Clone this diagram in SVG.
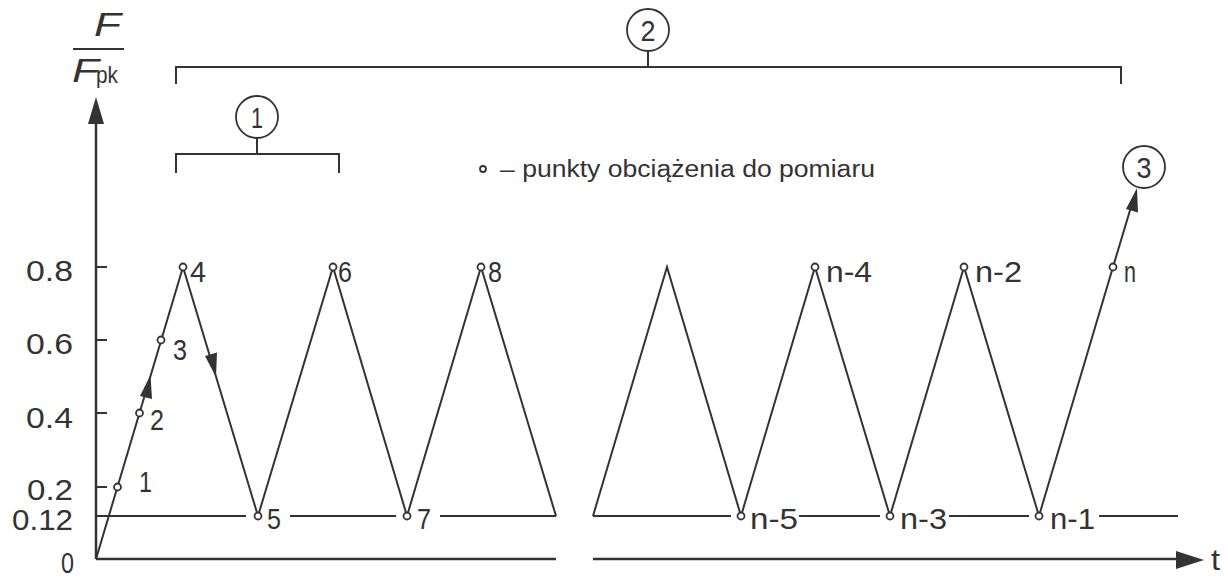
<svg xmlns="http://www.w3.org/2000/svg" width="1228" height="579" viewBox="0 0 1228 579">
<style>
.ln{stroke:#333;stroke-width:2;fill:none}
.ax{stroke:#333;stroke-width:2.5;fill:none}
.pt{stroke:#333;stroke-width:1.8;fill:#fff}
.lbl{font-family:"Liberation Sans",Arial,sans-serif;font-size:29px;fill:#333}
.cl{stroke:#333;stroke-width:1.8;fill:#fff}
.ah{fill:#333;stroke:none}
.leg{font-family:"Liberation Sans",Arial,sans-serif;font-size:23px;fill:#333}
</style>
<rect width="1228" height="579" fill="#fff"/>

<g id="axes">
<line class="ax" x1="96" y1="559" x2="96" y2="118"/>
<polygon class="ah" points="96,97 88,124 104,124"/>
<line class="ax" x1="96" y1="559" x2="556" y2="559"/>
<line class="ax" x1="593" y1="559" x2="1180" y2="559"/>
<polygon class="ah" points="1204,560 1176,551 1176,569"/>
<text class="lbl" x="1211" y="570" textLength="9" lengthAdjust="spacingAndGlyphs">t</text>
<g class="ln">
<line x1="96" y1="267" x2="107" y2="267"/>
<line x1="96" y1="340" x2="107" y2="340"/>
<line x1="96" y1="413" x2="107" y2="413"/>
<line x1="96" y1="487" x2="107" y2="487"/>
</g>
<text class="lbl" x="26" y="281" textLength="47" lengthAdjust="spacingAndGlyphs">0.8</text>
<text class="lbl" x="26" y="354" textLength="47" lengthAdjust="spacingAndGlyphs">0.6</text>
<text class="lbl" x="26" y="428" textLength="47" lengthAdjust="spacingAndGlyphs">0.4</text>
<text class="lbl" x="27" y="500" textLength="46" lengthAdjust="spacingAndGlyphs">0.2</text>
<text class="lbl" x="12" y="530" textLength="61" lengthAdjust="spacingAndGlyphs">0.12</text>
<text class="lbl" x="61" y="573" textLength="13" lengthAdjust="spacingAndGlyphs">0</text>
</g>

<g id="ylabel">
<text x="94" y="36" font-family="Liberation Sans,Arial,sans-serif" font-size="33" font-style="italic" fill="#333" textLength="27" lengthAdjust="spacingAndGlyphs">F</text>
<line class="ln" x1="73" y1="49" x2="124" y2="49"/>
<text x="72" y="82" font-family="Liberation Sans,Arial,sans-serif" font-size="33" font-style="italic" fill="#333" textLength="27" lengthAdjust="spacingAndGlyphs">F</text>
<text x="96" y="83" font-family="Liberation Sans,Arial,sans-serif" font-size="24" fill="#333" textLength="22" lengthAdjust="spacingAndGlyphs">pk</text>
</g>

<g id="connectors">
<polyline class="ln" points="96,559 183,267 258,516 333,267 407,516 481,267 556,516"/>
<polyline class="ln" points="593,516 667,267 741,516 815,267 890,516 964,267 1039,516 1113,267 1131,207"/>
<polygon class="ah" points="150.5,375 140,396 152,399"/>
<polygon class="ah" points="216,377 205,356 217,352.5"/>
<polygon class="ah" points="1137,188 1126,209 1138,212.5"/>
<g class="ln">
<line x1="96" y1="516" x2="246" y2="516"/>
<line x1="290" y1="516" x2="396" y2="516"/>
<line x1="440" y1="516" x2="556" y2="516"/>
<line x1="593" y1="516" x2="731" y2="516"/>
<line x1="799" y1="516" x2="880" y2="516"/>
<line x1="949" y1="516" x2="1029" y2="516"/>
<line x1="1099" y1="516" x2="1178" y2="516"/>
</g>
</g>

<g id="points">
<circle class="pt" cx="117.5" cy="487" r="3.5"/>
<circle class="pt" cx="139.5" cy="413" r="3.5"/>
<circle class="pt" cx="161" cy="340" r="3.5"/>
<circle class="pt" cx="183" cy="267" r="3.5"/>
<circle class="pt" cx="258" cy="516" r="3.5"/>
<circle class="pt" cx="333" cy="267" r="3.5"/>
<circle class="pt" cx="407" cy="516" r="3.5"/>
<circle class="pt" cx="481" cy="267" r="3.5"/>
<circle class="pt" cx="741" cy="516" r="3.5"/>
<circle class="pt" cx="815" cy="267" r="3.5"/>
<circle class="pt" cx="890" cy="516" r="3.5"/>
<circle class="pt" cx="964" cy="267" r="3.5"/>
<circle class="pt" cx="1039" cy="516" r="3.5"/>
<circle class="pt" cx="1113" cy="267" r="3.5"/>
<text class="lbl" x="139" y="492" textLength="13" lengthAdjust="spacingAndGlyphs">1</text>
<text class="lbl" x="150" y="430" textLength="14" lengthAdjust="spacingAndGlyphs">2</text>
<text class="lbl" x="173" y="360" textLength="14" lengthAdjust="spacingAndGlyphs">3</text>
<text class="lbl" x="190" y="282" textLength="16" lengthAdjust="spacingAndGlyphs">4</text>
<text class="lbl" x="267" y="529" textLength="14" lengthAdjust="spacingAndGlyphs">5</text>
<text class="lbl" x="338" y="282" textLength="14" lengthAdjust="spacingAndGlyphs">6</text>
<text class="lbl" x="417" y="529" textLength="14" lengthAdjust="spacingAndGlyphs">7</text>
<text class="lbl" x="488" y="282" textLength="14" lengthAdjust="spacingAndGlyphs">8</text>
<text class="lbl" x="750" y="529" textLength="48" lengthAdjust="spacingAndGlyphs">n-5</text>
<text class="lbl" x="826" y="282" textLength="46" lengthAdjust="spacingAndGlyphs">n-4</text>
<text class="lbl" x="900" y="529" textLength="47" lengthAdjust="spacingAndGlyphs">n-3</text>
<text class="lbl" x="975" y="282" textLength="47" lengthAdjust="spacingAndGlyphs">n-2</text>
<text class="lbl" x="1050" y="529" textLength="45" lengthAdjust="spacingAndGlyphs">n-1</text>
<text class="lbl" x="1124" y="282" textLength="12" lengthAdjust="spacingAndGlyphs">n</text>
</g>

<g id="bracket1">
<polyline class="ln" points="176,173 176,154 339,154 339,173"/>
<line class="ln" x1="257" y1="154" x2="257" y2="138"/>
<circle class="cl" cx="257" cy="117" r="21"/>
<text class="lbl" x="257" y="128" text-anchor="middle" font-size="31" textLength="12" lengthAdjust="spacingAndGlyphs">1</text>
</g>

<g id="bracket2">
<polyline class="ln" points="176,84 176,67 1121,67 1121,84"/>
<line class="ln" x1="648" y1="67" x2="648" y2="51"/>
<circle class="cl" cx="648" cy="30" r="21"/>
<text class="lbl" x="648" y="41" text-anchor="middle" font-size="31" textLength="15" lengthAdjust="spacingAndGlyphs">2</text>
</g>

<g id="marker3">
<circle class="cl" cx="1144" cy="167" r="21"/>
<text class="lbl" x="1144" y="178" text-anchor="middle" font-size="31" textLength="15" lengthAdjust="spacingAndGlyphs">3</text>
</g>

<g id="legend">
<circle class="pt" cx="483" cy="169" r="3" stroke-width="1.6"/>
<text class="leg" x="500" y="177" textLength="375" lengthAdjust="spacingAndGlyphs">– punkty obciążenia do pomiaru</text>
</g>
</svg>
